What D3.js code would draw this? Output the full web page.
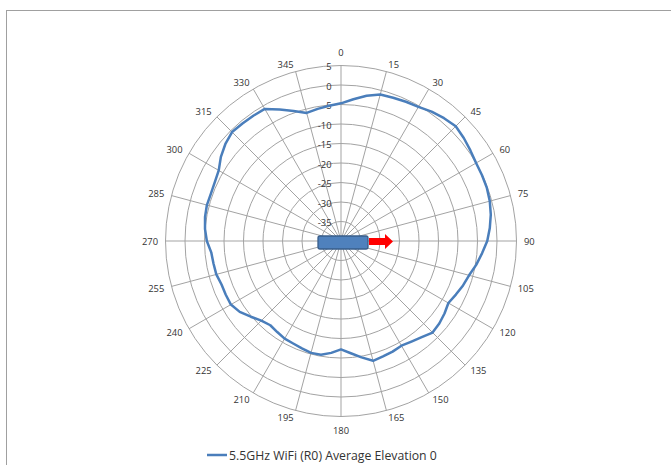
<!DOCTYPE html>
<html>
<head>
<meta charset="utf-8">
<script src="https://cdn.jsdelivr.net/npm/d3@7"></script>
<style>
  body { margin: 0; background: #fff; }
  svg { display: block; }
  text { font-family: "Open Sans", sans-serif; fill: #333; }
</style>
</head>
<body>
<svg id="chart" width="671" height="465"></svg>
<script>
var angles = [0, 5, 10, 15, 20, 25, 30, 35, 40, 45, 50, 55, 60, 65, 70, 75, 80, 85,
  90, 95, 100, 105, 110, 115, 120, 125, 130, 135, 140, 145, 150, 155, 160, 165, 170, 175,
  180, 185, 190, 195, 200, 205, 210, 215, 220, 225, 230, 235, 240, 245, 250, 255, 260, 265,
  270, 275, 280, 285, 290, 295, 300, 305, 310, 315, 320, 325, 330, 335, 340, 345, 350, 355];

var gain = [-4.7, -3.5, -2.2, -1.1, -0.9, -0.6, -0.3, 0.5, 1.1, 1.6, 1.1, 0.5, 0.0, -0.1, -0.2, -0.5, -1.0, -1.7,
  -2.5, -3.7, -4.8, -6.0, -6.7, -7.5, -8.2, -7.6, -7.1, -6.8, -7.8, -8.5, -9.0, -8.7, -8.5, -8.2, -9.7, -11.1,
  -12.2, -11.2, -10.4, -10.3, -10.7, -11.0, -11.1, -11.5, -11.8, -11.1, -9.8, -8.3, -7.4, -7.4, -7.4, -6.9, -6.8, -6.6,
  -5.6, -5.0, -4.6, -4.4, -4.5, -4.3, -3.8, -2.4, -1.3, -0.5, -0.7, -0.8, -0.9, -2.8, -4.5, -6.0, -5.6, -5.2];

var angleLabels = [0, 15, 30, 45, 60, 75, 90, 105, 120, 135, 150, 165,
  180, 195, 210, 225, 240, 255, 270, 285, 300, 315, 330, 345];

var ringTicks = [5, 0, -5, -10, -15, -20, -25, -30, -35];

var seriesName = '5.5GHz WiFi (R0) Average Elevation 0';

var lineColor = '#4a7ebb';
var gridColor = '#a3a3a3';

var svg = d3.select('#chart');
var cx = 341, cy = 241, rMax = 175.5;

var r = d3.scaleLinear().domain([-40, 5]).range([0, rMax]);
var a = d3.scaleLinear().domain([0, 360]).range([0, 2 * Math.PI]);

// chart frame (runs off the right and bottom edges)
svg.append('rect')
  .attr('x', 6.5).attr('y', 10.5)
  .attr('width', 720).attr('height', 520)
  .attr('fill', 'none')
  .attr('stroke', '#a0a0a0');

var g = svg.append('g').attr('transform', 'translate(' + cx + ',' + cy + ')');

// rings
g.selectAll('circle.ring').data(ringTicks).enter().append('circle')
  .attr('class', 'ring')
  .attr('r', function(d) { return r(d); })
  .attr('fill', 'none')
  .attr('stroke', gridColor)
  .attr('stroke-width', 1);

// spokes
g.selectAll('line.spoke').data(angleLabels).enter().append('line')
  .attr('class', 'spoke')
  .attr('x1', 0).attr('y1', 0)
  .attr('x2', function(d) { return r(5) * Math.sin(a(d)); })
  .attr('y2', function(d) { return -r(5) * Math.cos(a(d)); })
  .attr('stroke', gridColor)
  .attr('stroke-width', 1);

// angle labels, box edge touching a circle just outside the grid
var labR = rMax + 7.5;
g.selectAll('text.ang').data(angleLabels).enter().append('text')
  .attr('class', 'ang')
  .attr('font-size', 9.4)
  .attr('dominant-baseline', 'central')
  .attr('text-anchor', function(d) {
    if (d === 0 || d === 180) return 'middle';
    return d < 180 ? 'start' : 'end';
  })
  .attr('x', function(d) {
    if (d === 0 || d === 180) return 0;
    return labR * Math.sin(a(d));
  })
  .attr('y', function(d) {
    if (d === 0) return -labR - 6;
    if (d === 180) return labR + 6;
    return -labR * Math.cos(a(d));
  })
  .text(function(d) { return d; });

// value labels along the 0 spoke
g.selectAll('text.val').data(ringTicks).enter().append('text')
  .attr('class', 'val')
  .attr('font-size', 9.4)
  .attr('text-anchor', 'end')
  .attr('dominant-baseline', 'central')
  .attr('x', -9.5)
  .attr('y', function(d) { return -r(d) + 1; })
  .text(function(d) { return d; });

// series
var radial = d3.lineRadial()
  .angle(function(d, i) { return a(angles[i]); })
  .radius(function(d) { return r(d); })
  .curve(d3.curveLinearClosed);

g.append('path')
  .datum(gain)
  .attr('d', radial)
  .attr('fill', 'none')
  .attr('stroke', lineColor)
  .attr('stroke-width', 2.5)
  .attr('stroke-linejoin', 'round');

// device box and direction arrow
g.append('rect')
  .attr('x', -23).attr('y', -5)
  .attr('width', 50).attr('height', 13)
  .attr('rx', 2)
  .attr('fill', '#4f81bd')
  .attr('stroke', '#385d8a')
  .attr('stroke-width', 1.3);

g.append('polygon')
  .attr('points', '28,-3 44,-3 44,-7 52,0.5 44,8 44,4 28,4')
  .attr('fill', '#ff0000');

// legend
var leg = svg.append('g').attr('transform', 'translate(207,455)');
leg.append('line')
  .attr('x1', 0).attr('x2', 20)
  .attr('y1', 0).attr('y2', 0)
  .attr('stroke', lineColor)
  .attr('stroke-width', 2.5);
var legText = leg.append('text')
  .attr('x', 22).attr('y', 0)
  .attr('dominant-baseline', 'central')
  .attr('font-size', 11)
  .text(seriesName);
var w = legText.node().getComputedTextLength();
legText.attr('font-size', 11 * 208 / w);
</script>
</body>
</html>
